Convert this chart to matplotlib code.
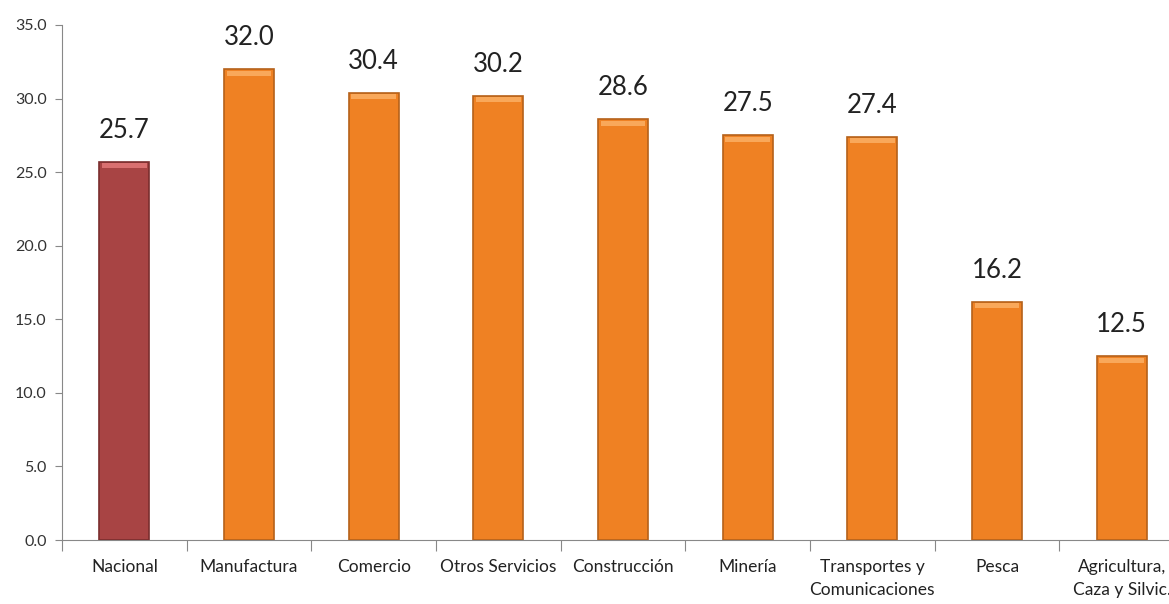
import matplotlib.pyplot as plt
import numpy as np

categorias = ["Nacional", "Manufactura", "Comercio", "Otros Servicios", "Construcción",
              "Minería", "Transportes y\nComunicaciones", "Pesca", "Agricultura,\nCaza y Silvic."]
valores = [25.7, 32.0, 30.4, 30.2, 28.6, 27.5, 27.4, 16.2, 12.5]
y_ticks = [0, 5, 10, 15, 20, 25, 30, 35]

plt.rcParams["font.family"] = ["Lato", "DejaVu Sans"]

fig = plt.figure(figsize=(11.69, 6.04), dpi=100)
ax = fig.add_axes([62 / 1169, 64 / 604, 1122 / 1169, 515 / 604])

x = np.arange(len(categorias))
colores = ["#A84444"] + ["#EF8123"] * (len(categorias) - 1)
bordes = ["#7A2E2E"] + ["#B5611A"] * (len(categorias) - 1)
ax.bar(x, valores, width=0.4, color=colores, edgecolor=bordes, linewidth=1.2, zorder=3)

# brillo en la parte superior de cada barra
for i, v in enumerate(valores):
    claro = "#D97070" if i == 0 else "#F9A85A"
    ax.bar(x[i], 0.35, bottom=v - 0.45, width=0.36, color=claro, linewidth=0, zorder=4)
    ax.text(x[i], v + 1.3, f"{v:.1f}", ha="center", va="bottom", fontsize=18.5, color="#222222")

ax.set_xlim(-0.5, len(categorias) - 0.5)
ax.set_ylim(0, 35)
ax.set_yticks(y_ticks)
ax.set_yticklabels([f"{t:.1f}" for t in y_ticks], fontsize=11.5, color="#333333")

ax.set_xticks(np.arange(len(categorias) + 1) - 0.5)
ax.set_xticklabels([])
ax.set_xticks(x, minor=True)
ax.set_xticklabels(categorias, minor=True, fontsize=12.5, color="#222222", linespacing=1.5)
ax.tick_params(axis="x", which="major", length=8, color="#888888", direction="out")
ax.tick_params(axis="x", which="minor", length=0, pad=14)
ax.tick_params(axis="y", length=5, color="#888888", pad=6)

for s in ["top", "right"]:
    ax.spines[s].set_visible(False)
ax.spines["left"].set_color("#888888")
ax.spines["bottom"].set_color("#888888")

fig.savefig("out.png", dpi=100)
